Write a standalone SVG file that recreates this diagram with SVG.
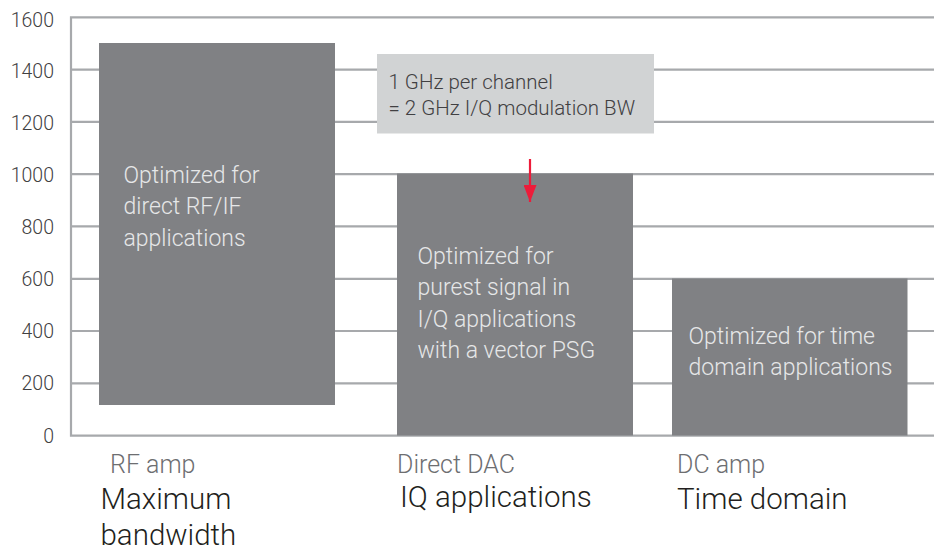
<svg xmlns="http://www.w3.org/2000/svg" width="934" height="552" viewBox="0 0 934 552">
<style>
text{font-family:Roboto,"Liberation Sans",sans-serif;font-weight:300}
.grid{stroke:#a7a9ac;stroke-width:2.2;fill:none}
.tick{font-size:19.5px;fill:#414042;text-anchor:end}
.bar{fill:#808184}
.bt{font-size:23px;fill:#e6e7e8}
.sub{font-size:25px;fill:#6d6e71}
.cap{font-size:29.5px;fill:#231f20}
.note{fill:#d1d3d4}
.nt{font-size:20.5px;fill:#414042}
</style>
<defs>
<marker id="ah" markerWidth="17" markerHeight="13" refX="17" refY="6.5" orient="auto" markerUnits="userSpaceOnUse" viewBox="0 0 17 13">
<path d="M0,0 L17,6.5 L0,13 Z" fill="#ed1c3a"/>
</marker>
</defs>
<g id="axis">
<path class="grid" d="M71,17.3 H934 M71,69.6 H934 M71,121.9 H934 M71,174.2 H934 M71,226.4 H934 M71,278.8 H934 M71,331 H934 M71,383.4 H934 M71,435.7 H934 M71,16.2 V436.8"/>
<text class="tick" x="54" y="26.5">1600</text>
<text class="tick" x="54" y="77.5">1400</text>
<text class="tick" x="54" y="129.5">1200</text>
<text class="tick" x="54" y="181.5">1000</text>
<text class="tick" x="54" y="233.5">800</text>
<text class="tick" x="54" y="285.5">600</text>
<text class="tick" x="54" y="337.5">400</text>
<text class="tick" x="54" y="389.5">200</text>
<text class="tick" x="54" y="442.5">0</text>
</g>
<g id="bar-rf">
<rect class="bar" x="99" y="43" width="236" height="362"/>
<text class="bt" x="123.5" y="182.5">Optimized for</text>
<text class="bt" x="123.5" y="214">direct RF/IF</text>
<text class="bt" x="123.5" y="245.5">applications</text>
</g>
<g id="bar-dac">
<rect class="bar" x="397" y="173.5" width="236" height="262"/>
<text class="bt" x="417.5" y="263.5">Optimized for</text>
<text class="bt" x="417.5" y="295">purest signal in</text>
<text class="bt" x="417.5" y="326.7">I/Q applications</text>
<text class="bt" x="417.5" y="358.3">with a vector PSG</text>
</g>
<g id="bar-dc">
<rect class="bar" x="672" y="278.5" width="235.5" height="157"/>
<text class="bt" x="688.5" y="343.5">Optimized for time</text>
<text class="bt" x="688.5" y="375">domain applications</text>
</g>
<g id="note">
<rect class="note" x="377" y="54" width="277" height="79.5"/>
<text class="nt" x="388.5" y="88.5">1 GHz per channel</text>
<text class="nt" x="388.5" y="115">= 2 GHz I/Q modulation BW</text>
</g>
<g id="connectors">
<line x1="530" y1="159" x2="530" y2="202" stroke="#ed1c3a" stroke-width="2.2" marker-end="url(#ah)"/>
</g>
<g id="label-rf">
<text class="sub" x="110" y="473">RF amp</text>
<text class="cap" x="100.5" y="509.3">Maximum</text>
<text class="cap" x="100.5" y="545">bandwidth</text>
</g>
<g id="label-dac">
<text class="sub" x="397" y="472.7">Direct DAC</text>
<text class="cap" x="400" y="506.7">IQ applications</text>
</g>
<g id="label-dc">
<text class="sub" x="677" y="473">DC amp</text>
<text class="cap" x="677" y="508.5">Time domain</text>
</g>
</svg>
